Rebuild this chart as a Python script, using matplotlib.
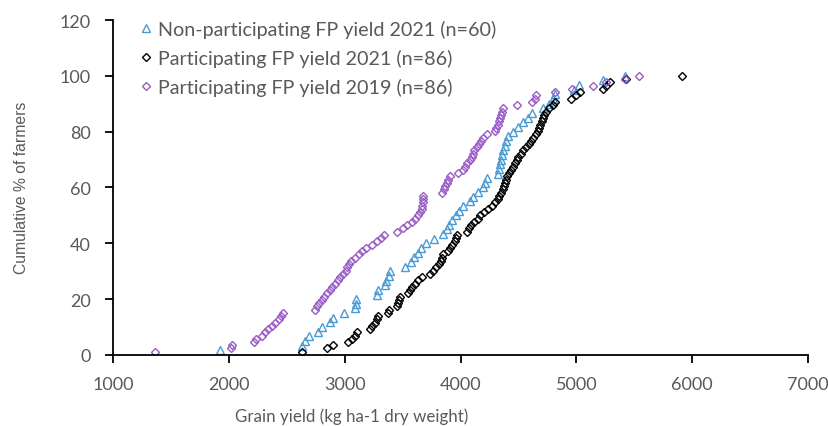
import matplotlib.pyplot as plt
import numpy as np

# sorted yields (kg/ha); cumulative % = rank / n * 100
nonpart_2021 = [1920, 2630, 2660, 2690, 2770, 2800, 2875, 2900, 2990, 3090,
                3095, 3100, 3280, 3290, 3345, 3360, 3380, 3395, 3520, 3570,
                3600, 3630, 3660, 3700, 3770, 3850, 3880, 3900, 3930, 3960,
                3990, 4020, 4080, 4110, 4150, 4190, 4210, 4230, 4320, 4330,
                4340, 4350, 4360, 4370, 4380, 4395, 4410, 4450, 4495, 4540,
                4580, 4620, 4710, 4760, 4800, 4820, 4980, 5020, 5230, 5420]

part_2021 = [2635, 2850, 2900, 3030, 3060, 3085, 3105, 3220, 3240, 3260,
             3280, 3290, 3370, 3385, 3450, 3460, 3470, 3478, 3550, 3560,
             3580, 3610, 3630, 3665, 3735, 3760, 3790, 3815, 3830, 3840,
             3850, 3890, 3910, 3930, 3950, 3960, 3970, 4060, 4075, 4090,
             4120, 4150, 4170, 4200, 4240, 4270, 4300, 4320, 4335, 4350,
             4365, 4375, 4385, 4395, 4405, 4420, 4435, 4450, 4470, 4485,
             4500, 4525, 4540, 4565, 4590, 4610, 4630, 4650, 4665, 4680,
             4690, 4700, 4715, 4725, 4735, 4760, 4800, 4820, 4950, 5000,
             5030, 5230, 5260, 5290, 5430, 5910]

part_2019 = [1360, 2020, 2030, 2220, 2235, 2290, 2310, 2340, 2370, 2400,
             2430, 2450, 2470, 2740, 2760, 2780, 2800, 2820, 2845, 2870,
             2890, 2915, 2940, 2960, 2985, 3010, 3020, 3040, 3055, 3090,
             3120, 3150, 3180, 3240, 3280, 3310, 3340, 3450, 3500, 3540,
             3580, 3610, 3630, 3650, 3665, 3670, 3675, 3678, 3680, 3840,
             3855, 3870, 3880, 3895, 3910, 3975, 4020, 4040, 4060, 4080,
             4095, 4105, 4120, 4140, 4160, 4180, 4195, 4230, 4300, 4310,
             4320, 4330, 4340, 4350, 4360, 4370, 4490, 4620, 4640, 4650,
             4820, 4960, 5140, 5260, 5420, 5540]

labels = ["Non-participating FP yield 2021 (n=60)",
          "Participating FP yield 2021 (n=86)",
          "Participating FP yield 2019 (n=86)"]

x_ticks = [1000, 2000, 3000, 4000, 5000, 6000, 7000]
y_ticks = [0, 20, 40, 60, 80, 100, 120]


def cum_pct(vals):
    n = len(vals)
    return [100.0 * (i + 1) / n for i in range(n)]


plt.rcParams['font.family'] = ['Lato', 'DejaVu Sans']
grey = '#595959'

fig = plt.figure(figsize=(8.29, 4.27), dpi=100)
ax = fig.add_axes([0.1363, 0.1663, 0.8384, 0.7845])

ax.plot(nonpart_2021, cum_pct(nonpart_2021), ls='none', marker='^',
        ms=5.5, mfc='none', mec='#4a9ad4', mew=1.0, label=labels[0])
ax.plot(part_2021, cum_pct(part_2021), ls='none', marker='D',
        ms=4, mfc='none', mec='black', mew=1.0, label=labels[1])
ax.plot(part_2019, cum_pct(part_2019), ls='none', marker='D',
        ms=4, mfc='none', mec='#9a5cc6', mew=1.0, label=labels[2])

ax.set_xlim(1000, 7000)
ax.set_ylim(0, 120)
ax.set_xticks(x_ticks)
ax.set_yticks(y_ticks)
ax.spines['top'].set_visible(False)
ax.spines['right'].set_visible(False)
for s in ['left', 'bottom']:
    ax.spines[s].set_linewidth(1.3)
ax.tick_params(axis='both', direction='out', length=6, width=1.3,
               labelsize=13, labelcolor=grey)
ax.tick_params(axis='x', pad=9)
ax.tick_params(axis='y', pad=10)

fig.text(352 / 829, 1 - 417 / 427, "Grain yield (kg ha-1 dry weight)",
         ha='center', va='center', fontsize=12.2, color=grey)
fig.text(22 / 829, 1 - 188 / 427, "Cumulative % of farmers", rotation=90,
         ha='center', va='center', fontsize=11.3, color=grey,
         family='Liberation Sans')

leg = ax.legend(loc='upper left', bbox_to_anchor=(0.024, 1.025), frameon=False,
                fontsize=14.25, handlelength=0.8, handletextpad=0.25,
                labelspacing=0.55, borderaxespad=0)
for t in leg.get_texts():
    t.set_color(grey)

fig.savefig("out.png", dpi=100)
